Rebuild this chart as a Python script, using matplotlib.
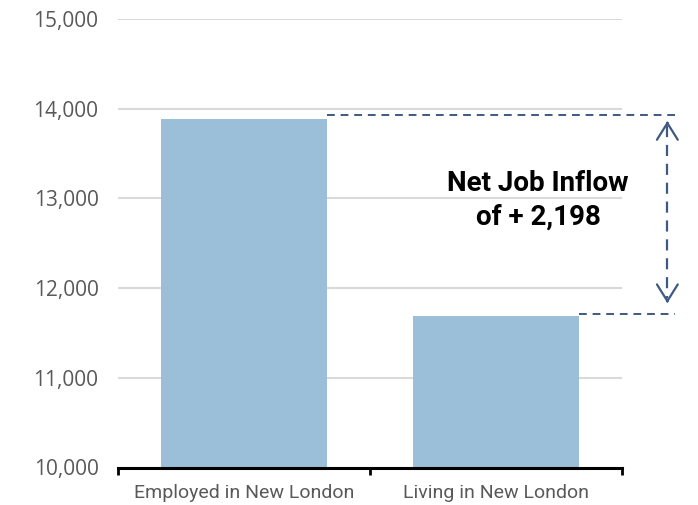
import matplotlib.pyplot as plt
import numpy as np

plt.rcParams['font.family'] = ['Roboto', 'DejaVu Sans']

categories = ['Employed in New London', 'Living in New London']
jobs = [13890, 11692]
y_ticks = [10000, 11000, 12000, 13000, 14000, 15000]

net = jobs[0] - jobs[1]
line_col = '#3e5a80'

fig = plt.figure(figsize=(6.98, 5.05), dpi=100)
ax = fig.add_axes([118/698, 37.5/505, 504/698, 448.5/505])

x = np.arange(len(categories)) + 0.5
w = 0.66
ax.bar(x, jobs, width=w, color='#9bbfd8', zorder=2)

ax.set_xlim(0, 2)
ax.set_ylim(10000, 15000)
ax.set_yticks(y_ticks)
ax.set_yticklabels([f'{v:,}' for v in y_ticks], family=['Open Sans', 'DejaVu Sans'])
ax.yaxis.grid(True, color='#d9d9d9', linewidth=1.5, zorder=0)
ax.tick_params(axis='y', length=0, labelsize=15, labelcolor='#595959', pad=14)

ax.set_xticks(x)
ax.set_xticklabels(categories, family=['Roboto', 'DejaVu Sans'])
ax.tick_params(axis='x', which='major', length=0, labelsize=14, labelcolor='#595959', pad=12)
ax.set_xticks([0, 1, 2], minor=True)
ax.tick_params(axis='x', which='minor', length=5, width=2, color='black', direction='out')

for s in ['top', 'right', 'left']:
    ax.spines[s].set_visible(False)
ax.spines['bottom'].set_linewidth(2.2)
ax.spines['bottom'].set_zorder(3)

# dashed guide lines
x_end = 2.21
x_arr = 2.18
dash = (0, (4, 3))
ax.plot([x[0] + w/2, x_end], [jobs[0] + 45, jobs[0] + 45], ls=dash,
        color=line_col, lw=1.4, clip_on=False)
ax.plot([x[1] + w/2, x_end], [jobs[1] + 22, jobs[1] + 22], ls=dash,
        color=line_col, lw=1.4, clip_on=False)

# double arrow: dashed shaft, solid open heads
top_tip = jobs[0] - 27
bot_tip = jobs[1] + 140
ax.plot([x_arr, x_arr], [top_tip - 60, bot_tip + 60], ls=(0, (5, 3.5)),
        color=line_col, lw=1.6, clip_on=False)
for tip, tail in [(top_tip, top_tip - 40), (bot_tip, bot_tip + 40)]:
    ax.annotate('', xy=(x_arr, tip), xytext=(x_arr, tail),
                arrowprops=dict(arrowstyle='->, head_length=0.4, head_width=0.25',
                                color=line_col, lw=1.6, mutation_scale=30,
                                shrinkA=0, shrinkB=0),
                annotation_clip=False)

ax.text(1.667, 12975, f'Net Job Inflow\nof + {net:,}', fontsize=20, fontweight='bold',
        ha='center', va='center', multialignment='center', color='black',
        linespacing=1.3)

fig.savefig('out.png', dpi=100)
